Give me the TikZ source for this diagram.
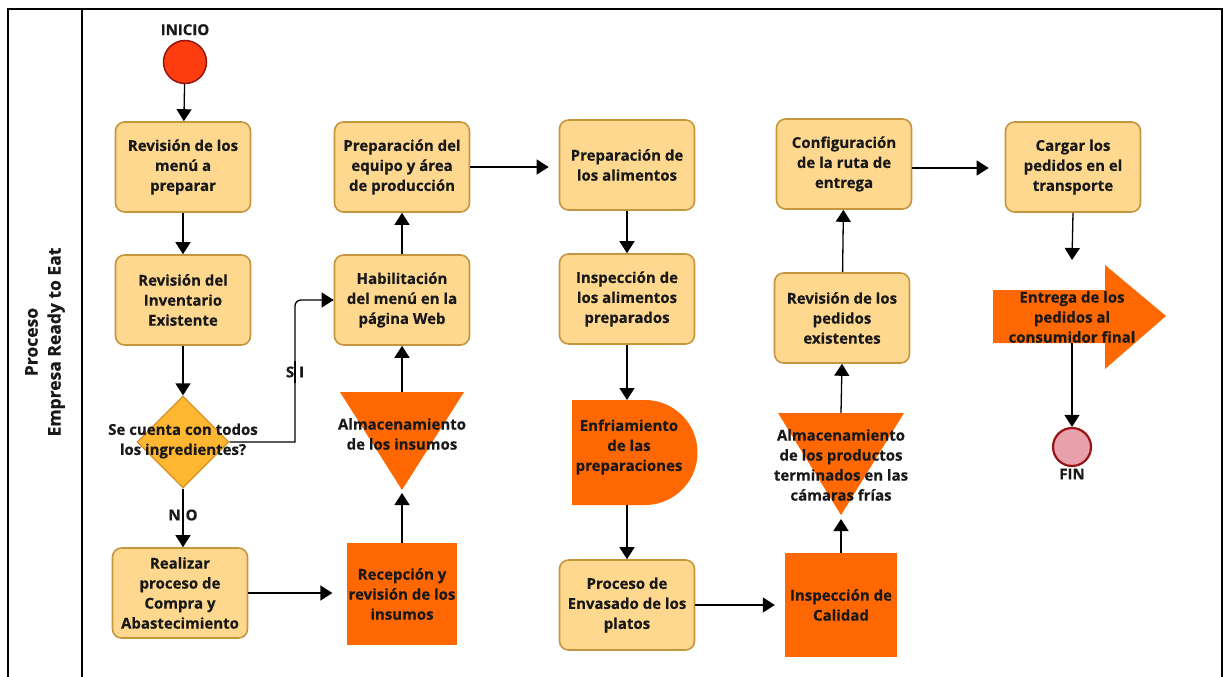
\documentclass[tikz,border=0pt]{standalone}
\usepackage{fontspec}
\setmainfont{Open Sans}[BoldFeatures={FakeBold=0.4}]
\usepackage{tikz}
\usetikzlibrary{arrows.meta,positioning,shapes.geometric,calc}
\definecolor{boxfill}{RGB}{254,216,142}
\definecolor{boxline}{RGB}{196,150,64}
\definecolor{decfill}{RGB}{255,182,48}
\definecolor{decline}{RGB}{214,146,40}
\definecolor{opfill}{RGB}{255,104,0}
\definecolor{startred}{RGB}{255,62,16}
\definecolor{endpink}{RGB}{232,160,170}
\definecolor{darkred}{RGB}{150,20,20}

\tikzset{
  lbl/.style={font=\bfseries\fontsize{15}{20}\selectfont, text=black!90, align=center},
  procbox/.style={lbl, draw=boxline, fill=boxfill, line width=1.6pt, rounded corners=9pt,
    minimum width=135pt, minimum height=90pt, inner sep=2pt},
  opbox/.style={lbl, fill=opfill, minimum width=110pt, minimum height=102pt, inner sep=2pt},
  flow/.style={-{Triangle[length=12pt,width=15pt]}, line width=1.3pt},
}

\begin{document}
\begin{tikzpicture}[x=1pt, y=-1pt]
  \useasboundingbox (0,0) rectangle (1224,677);

  % pool frame
  \draw[line width=1.2pt] (8,690) -- (8,9) -- (1222,9) -- (1222,690);
  \draw[line width=1.2pt] (82,9) -- (82,690);
  \node[lbl, rotate=90, font=\bfseries\fontsize{17.5}{23}\selectfont] (pool) at (45,342)
    {Proceso\\Empresa Ready to Eat};

  % start / end events
  \node[circle, draw=darkred, fill=startred, line width=1.5pt, minimum size=43pt] (inicio) at (185,62) {};
  \node[lbl, above=1pt of inicio] (inicioTxt) {INICIO};
  \node[circle, draw=darkred, fill=endpink, line width=2.2pt, minimum size=38pt] (fin) at (1072,447) {};
  \node[lbl, below=-2pt of fin] (finTxt) {FIN};

  % column 1
  \node[procbox] (menu) at (183,167) {Revisión de los\\menú a\\preparar};
  \node[procbox] (inventario) at (183,300) {Revisión del\\Inventario\\Existente};
  \node[diamond, draw=decline, fill=decfill, line width=1.2pt, minimum width=92pt, minimum height=92pt,
    inner sep=0pt] (decision) at (183,442) {};
  \node[lbl] (decisionTxt) at (183,441) {Se cuenta con todos\\los ingredientes?};
  \node[procbox] (compra) at (180,593) {Realizar\\proceso de\\Compra y\\Abastecimiento};

  % column 2
  \node[opbox] (recepcion) at (402,594) {Recepción y\\revisión de los\\insumos};
  \fill[opfill] (340,392) -- (464,392) -- (402,490) -- cycle;
  \coordinate (almTop) at (402,392);
  \coordinate (almTip) at (402,490);
  \node[lbl] (almInsumos) at (402,434) {Almacenamiento\\de los insumos};
  \node[procbox] (habilitacion) at (402,300) {Habilitación\\del menú en la\\página Web};
  \node[procbox] (equipo) at (402,167) {Preparación del\\equipo y área\\de producción};

  % column 3
  \node[procbox] (alimentos) at (627,165) {Preparación de\\los alimentos};
  \node[procbox] (inspeccion) at (627,299) {Inspección de\\los alimentos\\preparados};
  \fill[opfill] (572,400) -- (645,400) arc[start angle=-90, end angle=90, radius=52.5] -- (572,505) -- cycle;
  \coordinate (enfTop) at (627,400);
  \coordinate (enfBot) at (627,505);
  \node[lbl] (enfriamiento) at (629,447) {Enfriamiento\\de las\\preparaciones};
  \node[procbox] (envasado) at (627,605) {Proceso de\\Envasado de los\\platos};

  % column 4
  \node[opbox, minimum width=112pt, minimum height=104pt] (calidad) at (841,605) {Inspección de\\Calidad};
  \fill[opfill] (778,413) -- (904,413) -- (841,515) -- cycle;
  \coordinate (camTop) at (841,413);
  \coordinate (camTip) at (841,515);
  \node[lbl] (camaras) at (841,465) {Almacenamiento\\de los productos\\terminados en las\\cámaras frías};
  \node[procbox] (pedidos) at (842,318) {Revisión de los\\pedidos\\existentes};
  \node[procbox] (ruta) at (844,164) {Configuración\\de la ruta de\\entrega};

  % column 5
  \node[procbox] (cargar) at (1073,167) {Cargar los\\pedidos en el\\transporte};
  \fill[opfill] (993,290) -- (1105,290) -- (1105,265) -- (1166,316) -- (1105,369) -- (1105,343) -- (993,343) -- cycle;
  \coordinate (entTop) at (1072,290);
  \coordinate (entBot) at (1072,343);
  \node[lbl] (entrega) at (1072,317) {Entrega de los\\pedidos al\\consumidor final};

  % connectors
  \draw[flow] (inicio) -- (menu);
  \draw[flow] (menu) -- (inventario);
  \draw[flow] (inventario) -- (decision);
  \draw[flow] (decision.east) -- (295,442) [rounded corners=6pt] -- (295,300) -- (habilitacion.west);
  \draw[flow] (decision.south) -- (decision.south |- compra.north);
  \draw[flow] (compra.east) -- ([xshift=-14pt]recepcion.west |- compra.east);
  \draw[flow] (recepcion.north) -- ([yshift=-3pt]almTip);
  \draw[flow] (almTop) -- (habilitacion.south);
  \draw[flow] (habilitacion) -- (equipo);
  \draw[flow] (equipo.east) -- ([xshift=-10pt]alimentos.west |- equipo.east);
  \draw[flow] (alimentos) -- (inspeccion);
  \draw[flow] (inspeccion.south) -- (enfTop);
  \draw[flow] (enfBot) -- (envasado.north);
  \draw[flow] (envasado.east) -- ([xshift=-10pt]calidad.west |- envasado.east);
  \draw[flow] (calidad.north) -- ([yshift=-4pt]camTip);
  \draw[flow] (camTop) -- (pedidos.south);
  \draw[flow] (pedidos) -- (ruta);
  \draw[flow] ([yshift=-4pt]ruta.east) -- ([xshift=-16pt,yshift=-4pt]cargar.west |- ruta.east);
  \draw[flow] (cargar.south) -- ([yshift=30pt]entTop);
  \draw[flow] (entBot) -- (fin.north);

  % branch labels
  \node[lbl, fill=white, inner sep=1pt] (si) at (295,372) {S\,\,I};
  \draw[line width=1.3pt] (295,361) -- (295,383);
  \node[lbl, fill=white, inner sep=1pt] (no) at (183,515) {N\,\,O};
  \draw[line width=1.3pt] (183,504) -- (183,526);
\end{tikzpicture}
\end{document}
